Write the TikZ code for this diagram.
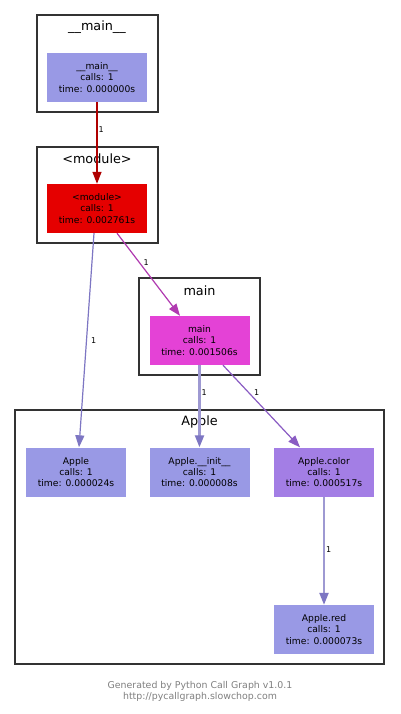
\documentclass[tikz,border=0pt]{standalone}
\usepackage{fontspec}
\setmainfont{DejaVu Sans}
\usetikzlibrary{arrows.meta}
\definecolor{clborder}{RGB}{51,51,51}
\definecolor{lav}{RGB}{153,153,229}
\definecolor{modred}{RGB}{229,0,0}
\definecolor{mainmag}{RGB}{228,66,214}
\definecolor{colpur}{RGB}{163,126,229}
\definecolor{edred}{RGB}{175,0,0}
\definecolor{edblue}{RGB}{125,118,195}
\definecolor{edmag}{RGB}{176,58,176}
\definecolor{edlight}{RGB}{158,153,210}
\definecolor{edpur}{RGB}{138,92,195}
\definecolor{footgray}{RGB}{128,128,128}
\tikzset{
  fn/.style={rectangle, minimum width=100pt, minimum height=49pt, inner sep=0pt,
    align=center, font=\fontsize{9.2}{11.3}\selectfont, text=black},
  cluster/.style={draw=clborder, line width=2.7pt, fill=none},
  ctitle/.style={font=\fontsize{12.8}{14}\selectfont, text=black},
  elabel/.style={font=\fontsize{8}{9}\selectfont, text=black, inner sep=1pt},
  edge/.style={line width=1.4pt},
}
\begin{document}
\begin{tikzpicture}[x=1pt,y=-1pt]
\useasboundingbox (0,0) rectangle (400,714);
\fill[white] (0,0) rectangle (400,714);
% clusters
\draw[cluster] (37,15) rectangle (158,112);
\node[ctitle] (t1) at (97,27) {\_\_main\_\_};
\draw[cluster] (37,147) rectangle (158,243);
\node[ctitle] (t2) at (97,159) {<module>};
\draw[cluster] (139,278) rectangle (260,375);
\node[ctitle] (t3) at (199.5,291) {main};
\draw[cluster] (15,410) rectangle (384,664);
\node[ctitle] (t4) at (199.5,422) {Apple};
% nodes
\node[fn, fill=lav] (mm) at (97,77.5) {\_\_main\_\_\\calls: 1\\time: 0.000000s};
\node[fn, fill=modred] (mod) at (97,208.5) {<module>\\calls: 1\\time: 0.002761s};
\node[fn, fill=mainmag] (mn) at (199.5,340.5) {main\\calls: 1\\time: 0.001506s};
\node[fn, fill=lav] (ap) at (76,472) {Apple\\calls: 1\\time: 0.000024s};
\node[fn, fill=lav] (ai) at (199.5,472) {Apple.\_\_init\_\_\\calls: 1\\time: 0.000008s};
\node[fn, fill=colpur] (ac) at (324,472) {Apple.color\\calls: 1\\time: 0.000517s};
\node[fn, fill=lav] (ar) at (324,629.5) {Apple.red\\calls: 1\\time: 0.000073s};
% edges
\draw[edge, edred, -{Triangle[length=12pt,width=9pt]}] (mm.south) -- node[elabel, pos=0.33, right] {1} (mod.north);
\draw[edge, edblue, line width=1.2pt, -{Triangle[length=12pt,width=9pt]}] ([xshift=-3pt]mod.south) -- node[elabel, pos=0.5, right=3pt] {1} ([xshift=3pt]ap.north);
\draw[edge, edmag, line width=1.2pt, -{Triangle[length=12pt,width=9pt]}] ([xshift=20pt]mod.south) -- node[elabel, pos=0.35, right=3pt] {1} ([xshift=-19.5pt]mn.north);
\draw[edge, edlight, line width=2.2pt, -{Triangle[length=12pt,width=9pt,color=edblue]}] (mn.south) -- node[elabel, pos=0.33, right] {1} (ai.north);
\draw[edge, edpur, line width=1.2pt, -{Triangle[length=12pt,width=9pt]}] ([xshift=23.5pt]mn.south) -- node[elabel, pos=0.33, right=4pt] {1} ([xshift=-24pt]ac.north);
\draw[edge, edlight, line width=2.2pt, -{Triangle[length=12pt,width=9pt,color=edblue]}] (ac.south) -- node[elabel, pos=0.49, right] {1} (ar.north);
% footer
\node[font=\fontsize{9.4}{11.2}\selectfont, text=footgray, align=center] (foot) at (200,691.5) {Generated by Python Call Graph v1.0.1\\http://pycallgraph.slowchop.com};
\end{tikzpicture}
\end{document}
